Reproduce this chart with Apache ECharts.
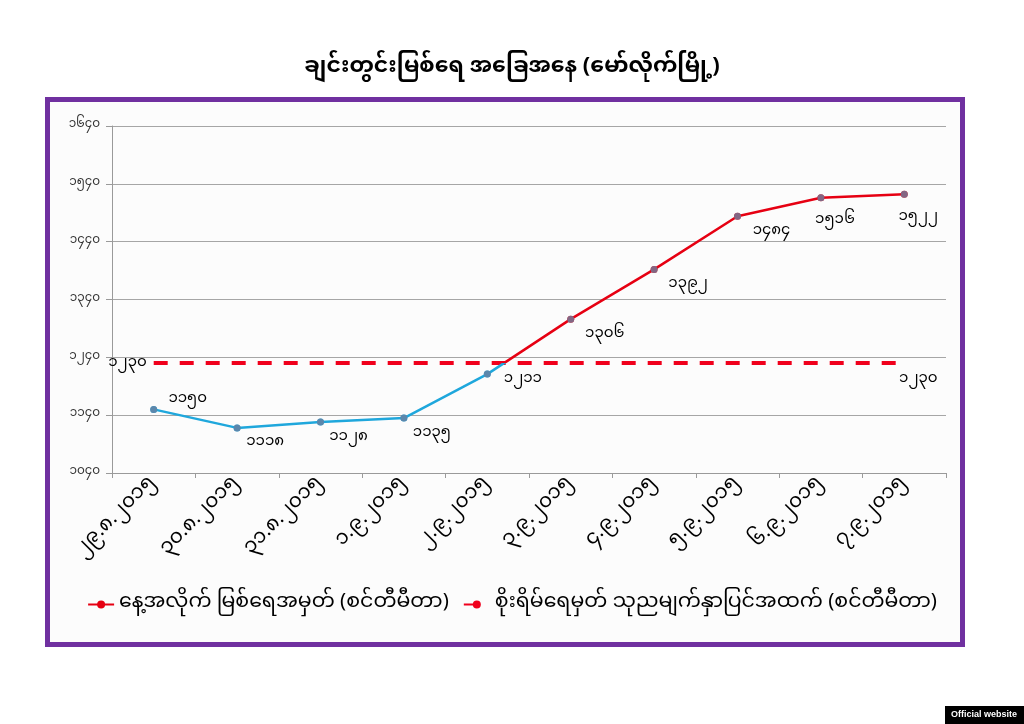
<!DOCTYPE html>
<html>
<head>
<meta charset="utf-8">
<script src="https://cdn.jsdelivr.net/npm/echarts@6/dist/echarts.min.js"></script>
<style>
html,body{margin:0;padding:0;background:#fff;}
#chart{width:1024px;height:724px;}
</style>
</head>
<body>
<div id="chart"></div>
<script>
const titleText = 'ချင်းတွင်းမြစ်ရေ အခြေအနေ (မော်လိုက်မြို့)';
const categories = ['၂၉.၈.၂၀၁၅','၃၀.၈.၂၀၁၅','၃၁.၈.၂၀၁၅','၁.၉.၂၀၁၅','၂.၉.၂၀၁၅','၃.၉.၂၀၁၅','၄.၉.၂၀၁၅','၅.၉.၂၀၁၅','၆.၉.၂၀၁၅','၇.၉.၂၀၁၅'];
const seriesNames = ['နေ့အလိုက် မြစ်ရေအမှတ် (စင်တီမီတာ)', 'စိုးရိမ်ရေမှတ် သုညမျက်နှာပြင်အထက် (စင်တီမီတာ)'];
const waterLevel = [1150, 1118, 1128, 1135, 1211, 1306, 1392, 1484, 1516, 1522];
const dangerLevel = [1230, 1230, 1230, 1230, 1230, 1230, 1230, 1230, 1230, 1230];
const yMin = 1040, yMax = 1640, yStep = 100;

const MY_DIGITS = ['၀','၁','၂','၃','၄','၅','၆','၇','၈','၉'];
function toMy(n){ return String(n).replace(/[0-9]/g, d => MY_DIGITS[+d]); }

const FONT = '"Noto Sans Myanmar","Padauk","Myanmar Text","Noto Sans","DejaVu Sans",sans-serif';
const chart = echarts.init(document.getElementById('chart'), null, {renderer:'canvas'});

const lastIdx = categories.length - 1;
function levelLabel(i) {
  if (i === 0) return {position: 'top', offset: [34, 7]};
  if (i === 4) return {position: 'right', offset: [8, 6]};
  if (i >= 8) return {position: 'bottom', offset: [14, 8]};
  if (i >= 5) return {position: 'bottom', offset: [34, 0]};
  return {position: 'bottom', offset: [28, 0]};
}
const levelData = waterLevel.map((v, i) => ({value: v, label: levelLabel(i)}));
const dangerData = dangerLevel.map((v, i) => ({
  value: v,
  label: {show: i === 0 || i === lastIdx, position: i === 0 ? 'left' : 'bottom', offset: i === 0 ? [-2, 1] : [14, 5]}
}));

chart.setOption({
  backgroundColor: '#ffffff',
  animation: false,
  title: {
    text: titleText, left: 'center', top: 54,
    textStyle: {fontFamily: FONT, fontSize: 22, fontWeight: 'bold', color: '#000'}
  },
  graphic: [
    {type: 'rect', z: -10, shape: {x: 47.5, y: 99.5, width: 915, height: 545},
     style: {fill: '#fcfcfc', stroke: '#7030A0', lineWidth: 5}},
    {type: 'rect', shape: {x: 945, y: 706, width: 79, height: 18}, style: {fill: '#000'}},
    {type: 'text', x: 984, y: 715, style: {text: 'Official website', fill: '#fff', font: 'bold 9px "Liberation Sans", sans-serif', textAlign: 'center', textVerticalAlign: 'middle'}}
  ],
  grid: {left: 112, right: 78, top: 126, bottom: 251, containLabel: false},
  legend: {
    top: 589, left: 'center', itemGap: 14, itemWidth: 26, itemHeight: 10,
    textStyle: {fontFamily: FONT, fontSize: 20.5, color: '#000'},
    data: [{name: seriesNames[0]}, {name: seriesNames[1]}]
  },
  visualMap: {
    show: false, type: 'piecewise', seriesIndex: 0, dimension: 1,
    pieces: [{min: 0, max: dangerLevel[0], color: '#1FA7DC'}, {min: dangerLevel[0], max: 5000, color: '#E60012'}]
  },
  xAxis: {
    type: 'category', data: categories, boundaryGap: true,
    axisLine: {lineStyle: {color: '#9a9a9a', width: 1}},
    axisTick: {show: true, length: 5, lineStyle: {color: '#9a9a9a'}},
    axisLabel: {rotate: 45, margin: 8, fontFamily: FONT, fontSize: 20, color: '#000', interval: 0}
  },
  yAxis: {
    type: 'value', min: yMin, max: yMax, interval: yStep,
    axisLine: {show: true, lineStyle: {color: '#9a9a9a', width: 1}},
    axisTick: {show: true, length: 6, lineStyle: {color: '#9a9a9a'}},
    splitLine: {lineStyle: {color: '#a6a6a6', width: 1}},
    axisLabel: {margin: 12, fontFamily: FONT, fontSize: 12, color: '#333', formatter: v => toMy(v)}
  },
  series: [
    {
      name: seriesNames[0], type: 'line', data: levelData, z: 3,
      symbol: 'circle', symbolSize: 7, showSymbol: true,
      lineStyle: {width: 2.5},
      itemStyle: {color: '#E60012'},
      label: {show: true, fontFamily: FONT, fontSize: 15, color: '#000', formatter: p => toMy(p.value)}
    },
    {
      name: seriesNames[1], type: 'line', data: dangerData, z: 2,
      symbol: 'circle', symbolSize: 0, showSymbol: true,
      lineStyle: {color: '#F0001C', width: 4, type: [14, 12]},
      itemStyle: {color: '#F0001C'},
      label: {fontFamily: FONT, fontSize: 15, color: '#000', formatter: p => toMy(p.value)}
    },
    {
      name: 'markers', type: 'scatter', data: waterLevel, z: 4,
      symbol: 'circle', symbolSize: 7,
      itemStyle: {color: '#6A7FA0'}, silent: true
    }
  ]
});
</script>
</body>
</html>
